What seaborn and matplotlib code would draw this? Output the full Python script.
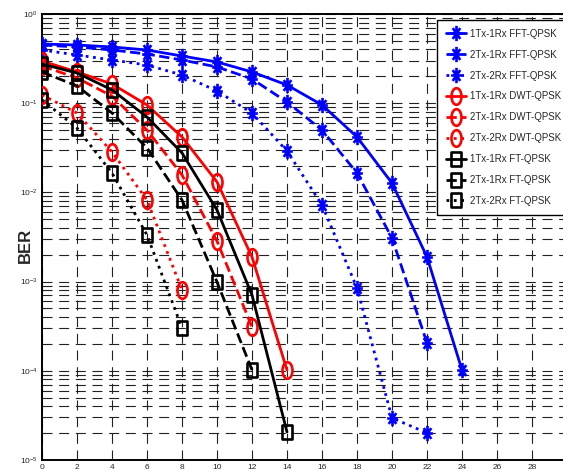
import numpy as np
import matplotlib
matplotlib.use('Agg')
import matplotlib.pyplot as plt
from matplotlib.path import Path
from matplotlib.ticker import LogLocator, FixedLocator, NullFormatter
import seaborn as sns

# SNR points (dB)
snr_fft = [0, 2, 4, 6, 8, 10, 12, 14, 16, 18, 20, 22, 24]
snr_fft_21 = [0, 2, 4, 6, 8, 10, 12, 14, 16, 18, 20, 22]
snr_dwt = [0, 2, 4, 6, 8, 10, 12, 14]
snr_dwt_21 = [0, 2, 4, 6, 8, 10, 12]
snr_short = [0, 2, 4, 6, 8]

# BER values
ber_fft_11 = [0.461, 0.449, 0.427, 0.395, 0.338, 0.290, 0.224, 0.160, 0.0955, 0.0418, 0.0127, 0.00189, 1.02e-4]
ber_fft_21 = [0.449, 0.427, 0.395, 0.356, 0.305, 0.255, 0.187, 0.103, 0.050, 0.0165, 0.00308, 2.05e-4]
ber_fft_22 = [0.395, 0.347, 0.305, 0.268, 0.207, 0.137, 0.0776, 0.0291, 0.00723, 8.48e-4, 2.96e-5, 2.01e-5]
ber_dwt_11 = [0.297, 0.224, 0.164, 0.0955, 0.0418, 0.0131, 0.00189, 1.02e-4]
ber_dwt_21 = [0.261, 0.192, 0.120, 0.050, 0.0157, 0.00285, 3.1e-4]
ber_dwt_22 = [0.124, 0.0776, 0.0284, 0.00822, 8.05e-4]
ber_ft_11 = [0.275, 0.218, 0.141, 0.070, 0.0277, 0.00635, 7.08e-4, 2.06e-5]
ber_ft_21 = [0.224, 0.156, 0.0776, 0.0315, 0.00822, 9.9e-4, 1.02e-4]
ber_ft_22 = [0.109, 0.0527, 0.0165, 0.00333, 3.02e-4]

labels = ['1Tx-1Rx FFT-QPSK', '2Tx-1Rx FFT-QPSK', '2Tx-2Rx FFT-QPSK',
          '1Tx-1Rx DWT-QPSK', '2Tx-1Rx DWT-QPSK', '2Tx-2Rx DWT-QPSK',
          '1Tx-1Rx FT-QPSK', '2Tx-1Rx FT-QPSK', '2Tx-2Rx FT-QPSK']
x_ticks = list(range(0, 30, 2))


# squashed markers, like the stretched matlab export
def ellipse_marker(sx):
    c = Path.unit_circle()
    return Path(c.vertices * [sx, 1.0], c.codes)


def box_marker(sx):
    v = [(-sx, -1), (sx, -1), (sx, 1), (-sx, 1), (-sx, -1)]
    return Path(v, [Path.MOVETO, Path.LINETO, Path.LINETO, Path.LINETO, Path.CLOSEPOLY])


def star_marker(sx):
    verts, codes = [], []
    for a in np.deg2rad([0, 45, 90, 135]):
        verts += [(sx * np.cos(a), np.sin(a)), (-sx * np.cos(a), -np.sin(a))]
        codes += [Path.MOVETO, Path.LINETO]
    return Path(verts, codes)


star = star_marker(0.7)
circ = ellipse_marker(0.6)
box = box_marker(0.7)

sns.set_style('white')
plt.rcParams['font.family'] = ['Liberation Sans', 'DejaVu Sans']
plt.rcParams['mathtext.default'] = 'regular'

fig = plt.figure(figsize=(5.63, 4.76), dpi=100)
ax = fig.add_axes([42 / 563, 16 / 476, 525 / 563, 446 / 476])

series = [
    (snr_fft, ber_fft_11, 'blue', '-', star, 11),
    (snr_fft_21, ber_fft_21, 'blue', '--', star, 11),
    (snr_fft_21, ber_fft_22, 'blue', ':', star, 11),
    (snr_dwt, ber_dwt_11, 'red', '-', circ, 12),
    (snr_dwt_21, ber_dwt_21, 'red', '--', circ, 12),
    (snr_short, ber_dwt_22, 'red', ':', circ, 12),
    (snr_dwt, ber_ft_11, 'black', '-', box, 9.5),
    (snr_dwt_21, ber_ft_21, 'black', '--', box, 9.5),
    (snr_short, ber_ft_22, 'black', ':', box, 9.5),
]
for (xs, ys, col, ls, mk, ms), lab in zip(series, labels):
    sns.lineplot(x=xs, y=ys, ax=ax, color=col, linestyle=ls, linewidth=2,
                 marker=mk, markersize=ms, markerfacecolor='none',
                 markeredgecolor=col, markeredgewidth=1.9, label=lab,
                 zorder=3)

ax.set_yscale('log')
ax.set_xlim(0, 30)
ax.set_ylim(1e-5, 1)
ax.xaxis.set_major_locator(FixedLocator(x_ticks))
ax.yaxis.set_major_locator(LogLocator(base=10, numticks=10))
ax.yaxis.set_minor_locator(LogLocator(base=10, subs=np.arange(2, 10), numticks=20))
ax.yaxis.set_minor_formatter(NullFormatter())

grid_kw = dict(color='#222222', linestyle=(0, (9, 6)), linewidth=0.8)
ax.grid(True, which='major', axis='both', **grid_kw)
ax.grid(True, which='minor', axis='y', **grid_kw)

ax.tick_params(axis='both', which='both', direction='in', labelsize=6,
               color='black', width=0.8)
ax.tick_params(which='major', length=4, pad=3)
ax.tick_params(which='minor', length=2)
for sp in ax.spines.values():
    sp.set_color('black')
    sp.set_linewidth(1.4)

ax.set_xlabel('')
ax.set_ylabel('BER', fontsize=12, fontweight='bold')
ax.yaxis.set_label_coords(-0.018, 0.48)

leg = ax.legend(loc='upper left', bbox_to_anchor=(437 / 563, 1 - 20 / 476),
                bbox_transform=fig.transFigure, fontsize=7, frameon=True,
                fancybox=False, framealpha=1, edgecolor='black',
                handlelength=2.1, handletextpad=0.35, labelspacing=1.12,
                borderpad=0.9, borderaxespad=0)
leg.get_frame().set_linewidth(1.0)

fig.savefig('out.png', dpi=100)
